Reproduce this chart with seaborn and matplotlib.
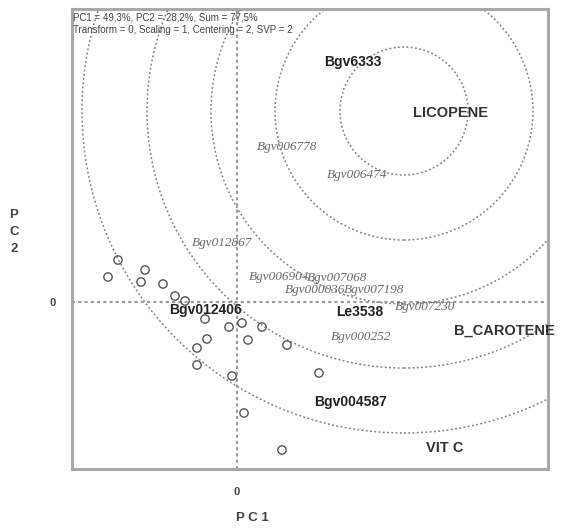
import matplotlib
matplotlib.use("Agg")
import matplotlib.pyplot as plt
from matplotlib.patches import Circle
import seaborn as sns
import pandas as pd

# ---- data ----
point_x = [-1.19, -1.29, -0.92, -0.96, -0.74, -0.62, -0.52, -0.32, -0.08, 0.05,
           0.25, 0.11, 0.50, -0.30, -0.40, -0.40, -0.05, 0.82, 0.07, 0.45]
point_y = [0.42, 0.25, 0.32, 0.20, 0.18, 0.06, 0.01, -0.17, -0.25, -0.21,
           -0.25, -0.38, -0.43, -0.37, -0.46, -0.63, -0.74, -0.71, -1.11, -1.48]

trait_names = ["LICOPENE", "B_CAROTENE", "VIT C"]
trait_x = [2.13, 2.67, 2.08]
trait_y = [1.89, -0.29, -1.46]

bold_names = ["Bgv6333", "Bgv012406", "Le3538", "Bgv004587"]
bold_x = [1.16, -0.31, 1.23, 1.14]
bold_y = [2.40, -0.08, -0.10, -1.00]

italic_names = ["Bgv006778", "Bgv006474", "Bgv012867", "Bgv006904", "Bgv007068",
                "Bgv000036", "Bgv007198", "Bgv007230", "Bgv000252"]
italic_x = [0.50, 1.20, -0.15, 0.42, 1.00, 0.78, 1.37, 1.88, 1.24]
italic_y = [1.55, 1.27, 0.59, 0.25, 0.24, 0.12, 0.12, -0.05, -0.35]

ideal_center = (1.67, 1.91)
ring_radii = [0.64, 1.29, 1.93, 2.57, 3.22]

info_lines = ["PC1 = 49,3%, PC2 = 28,2%, Sum = 77,5%",
              "Transform = 0, Scaling = 1, Centering = 2, SVP = 2"]

# ---- figure ----
sns.set_style("white")
plt.rcParams['font.family'] = ['Liberation Sans', 'DejaVu Sans']

fig = plt.figure(figsize=(5.65, 5.29), dpi=100)
ax = fig.add_axes([72 / 565, 1 - 469 / 529, 476 / 565, 460 / 529])
ax.set_xlim(-1.65, 3.11)
ax.set_ylim(-1.67, 2.93)

grey = "#7f7f7f"
# concentric rings
for r in ring_radii:
    ax.add_patch(Circle(ideal_center, r, fill=False, ls=(0, (1.2, 1.6)),
                        lw=1.1, ec=grey, zorder=1))
# axes lines
ax.axhline(0, color="#9a9a9a", ls=(0, (1.5, 1.5)), lw=1.5, zorder=1)
ax.axvline(0, color="#9a9a9a", ls=(0, (1.5, 1.5)), lw=1.5, zorder=1)

df = pd.DataFrame({"x": point_x, "y": point_y})
sns.scatterplot(data=df, x="x", y="y", ax=ax, marker="o", s=36,
                facecolor="none", edgecolor="#555555", linewidth=1.0, zorder=3)

for n, x, y in zip(trait_names, trait_x, trait_y):
    ax.text(x, y, n, ha="center", va="center", fontsize=10.5,
            fontweight="bold", color="#333333", zorder=4, clip_on=False)
for n, x, y in zip(bold_names, bold_x, bold_y):
    ax.text(x, y, n, ha="center", va="center", fontsize=10,
            fontweight="bold", color="#222222", zorder=4)
for n, x, y in zip(italic_names, italic_x, italic_y):
    ax.text(x, y, n, ha="center", va="center", fontsize=9.5,
            family=["Liberation Serif", "DejaVu Serif"], style="italic",
            color="#6a6a6a", zorder=4)

ax.text(0.003, 0.992, info_lines[0] + "\n" + info_lines[1],
        transform=ax.transAxes, ha="left", va="top", fontsize=7,
        color="#444444", linespacing=1.25)

# frame
for sp in ax.spines.values():
    sp.set_visible(True)
    sp.set_color("#a8a8a8")
    sp.set_linewidth(2.2)

ax.set_xticks([0])
ax.set_yticks([0])
ax.set_xticklabels(["0"], fontsize=8, fontweight="bold", color="#444444")
ax.set_yticklabels(["0"], fontsize=8, fontweight="bold", color="#444444")
ax.tick_params(axis="x", length=0, pad=13)
ax.tick_params(axis="y", length=0, pad=12)
ax.set_xlabel("P C 1", fontsize=9.5, fontweight="bold", color="#444444",
              labelpad=0)
ax.xaxis.set_label_coords((252 - 72) / 476, -(512 - 469) / 460)
ax.set_ylabel("")
fig.text(14 / 565, 1 - 232 / 529, "P\nC\n2", ha="center", va="center",
         fontsize=9.5, fontweight="bold", color="#444444", linespacing=1.5)

fig.savefig("out.png", dpi=100)
